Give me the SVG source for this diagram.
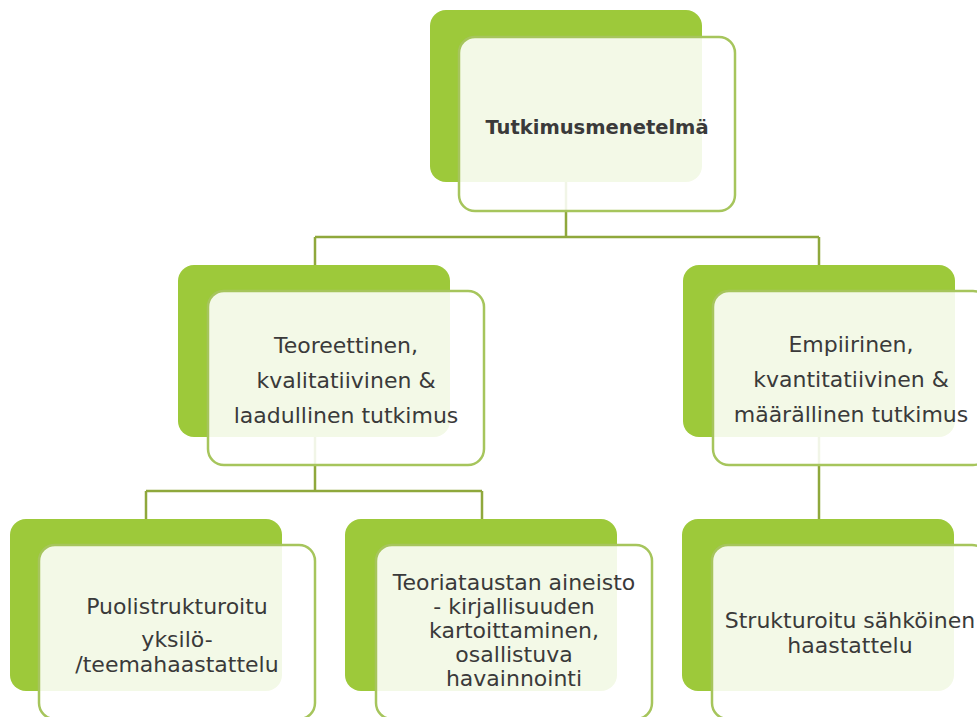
<svg xmlns="http://www.w3.org/2000/svg" width="977" height="717" viewBox="0 0 977 717">
<style>
.back{fill:#9dc93a;}
.front{fill:#ffffff;fill-opacity:0.88;stroke:#a6c55c;stroke-width:2.5;}
.conn{fill:none;stroke:#8fa83c;stroke-width:2.5;}
text{font-family:"DejaVu Sans","Liberation Sans",sans-serif;fill:#3a3a3a;text-anchor:middle;font-size:22px;}
.title{font-weight:bold;font-size:19.5px;}
</style>
<rect width="977" height="717" fill="#ffffff"/>
<g id="connectors">
<path class="conn" d="M566,181 V237 M315,237 H819 M315,237 V265 M819,237 V265"/>
<path class="conn" d="M315,437 V491 M146,491 H482 M146,491 V519 M482,491 V519"/>
<path class="conn" d="M819,437 V519"/>
</g>
<g id="node-top">
<rect class="back" x="430" y="10" width="272" height="172" rx="16"/>
<rect class="front" x="459" y="37" width="276" height="174" rx="16"/>
<text class="title" x="597" y="134">Tutkimusmenetelmä</text>
</g>
<g id="node-mid-left">
<rect class="back" x="178" y="265" width="272" height="172" rx="16"/>
<rect class="front" x="208" y="291" width="276" height="174" rx="16"/>
<text x="346" y="353">Teoreettinen,</text>
<text x="346" y="388">kvalitatiivinen &amp;</text>
<text x="346" y="423">laadullinen tutkimus</text>
</g>
<g id="node-mid-right">
<rect class="back" x="683" y="265" width="272" height="172" rx="16"/>
<rect class="front" x="713" y="291" width="276" height="174" rx="16"/>
<text x="851" y="352">Empiirinen,</text>
<text x="851" y="387">kvantitatiivinen &amp;</text>
<text x="851" y="422">määrällinen tutkimus</text>
</g>
<g id="node-bot-left">
<rect class="back" x="10" y="519" width="272" height="172" rx="16"/>
<rect class="front" x="39" y="545" width="276" height="174" rx="16"/>
<text x="177" y="614">Puolistrukturoitu</text>
<text x="177" y="647">yksilö-</text>
<text x="177" y="672">/teemahaastattelu</text>
</g>
<g id="node-bot-mid">
<rect class="back" x="345" y="519" width="272" height="172" rx="16"/>
<rect class="front" x="376" y="545" width="276" height="174" rx="16"/>
<text x="514" y="590">Teoriataustan aineisto</text>
<text x="514" y="614">- kirjallisuuden</text>
<text x="514" y="638">kartoittaminen,</text>
<text x="514" y="662">osallistuva</text>
<text x="514" y="686">havainnointi</text>
</g>
<g id="node-bot-right">
<rect class="back" x="682" y="519" width="272" height="172" rx="16"/>
<rect class="front" x="712" y="545" width="276" height="174" rx="16"/>
<text x="850" y="628">Strukturoitu sähköinen</text>
<text x="850" y="653">haastattelu</text>
</g>
</svg>
